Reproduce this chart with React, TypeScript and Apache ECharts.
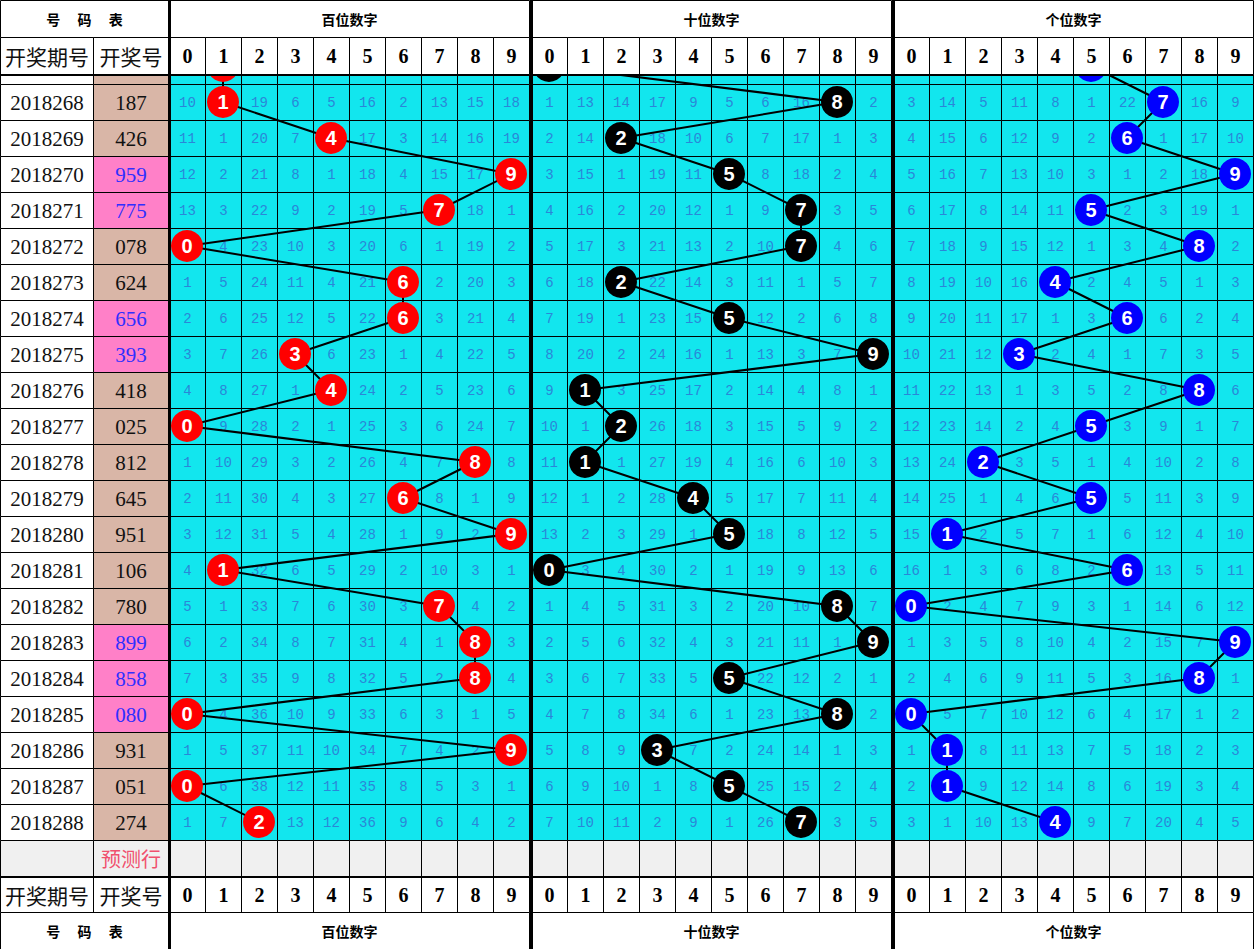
import React, { useEffect, useRef } from 'react';
import * as echarts from 'echarts';

// ---- data -----------------------------------------------------------------
const ISSUES = [
  '2018268', '2018269', '2018270', '2018271', '2018272', '2018273', '2018274',
  '2018275', '2018276', '2018277', '2018278', '2018279', '2018280', '2018281',
  '2018282', '2018283', '2018284', '2018285', '2018286', '2018287', '2018288',
];
const DRAWS = [
  '187', '426', '959', '775', '078', '624', '656', '393', '418', '025', '812',
  '645', '951', '106', '780', '899', '858', '080', '931', '051', '274',
];
// draw of the issue before the first listed one (only the lower edge of its balls shows)
const PREV_DRAW = '105';

const DIGITS = ['0', '1', '2', '3', '4', '5', '6', '7', '8', '9'];
const SECTION_TITLES = ['百位数字', '十位数字', '个位数字'];
const TABLE_TITLE = '号\u3000 码\u3000 表';
const ISSUE_HEADER = '开奖期号';
const DRAW_HEADER = '开奖号';
const FORECAST_LABEL = '预测行';

// omission counts per issue, digits 0-9 (0 = the digit drawn in that issue)
const HUNDREDS_MISS = [
  [10, 0, 19, 6, 5, 16, 2, 13, 15, 18],
  [11, 1, 20, 7, 0, 17, 3, 14, 16, 19],
  [12, 2, 21, 8, 1, 18, 4, 15, 17, 0],
  [13, 3, 22, 9, 2, 19, 5, 0, 18, 1],
  [0, 4, 23, 10, 3, 20, 6, 1, 19, 2],
  [1, 5, 24, 11, 4, 21, 0, 2, 20, 3],
  [2, 6, 25, 12, 5, 22, 0, 3, 21, 4],
  [3, 7, 26, 0, 6, 23, 1, 4, 22, 5],
  [4, 8, 27, 1, 0, 24, 2, 5, 23, 6],
  [0, 9, 28, 2, 1, 25, 3, 6, 24, 7],
  [1, 10, 29, 3, 2, 26, 4, 7, 0, 8],
  [2, 11, 30, 4, 3, 27, 0, 8, 1, 9],
  [3, 12, 31, 5, 4, 28, 1, 9, 2, 0],
  [4, 0, 32, 6, 5, 29, 2, 10, 3, 1],
  [5, 1, 33, 7, 6, 30, 3, 0, 4, 2],
  [6, 2, 34, 8, 7, 31, 4, 1, 0, 3],
  [7, 3, 35, 9, 8, 32, 5, 2, 0, 4],
  [0, 4, 36, 10, 9, 33, 6, 3, 1, 5],
  [1, 5, 37, 11, 10, 34, 7, 4, 2, 0],
  [0, 6, 38, 12, 11, 35, 8, 5, 3, 1],
  [1, 7, 0, 13, 12, 36, 9, 6, 4, 2],
];
const TENS_MISS = [
  [1, 13, 14, 17, 9, 5, 6, 16, 0, 2],
  [2, 14, 0, 18, 10, 6, 7, 17, 1, 3],
  [3, 15, 1, 19, 11, 0, 8, 18, 2, 4],
  [4, 16, 2, 20, 12, 1, 9, 0, 3, 5],
  [5, 17, 3, 21, 13, 2, 10, 0, 4, 6],
  [6, 18, 0, 22, 14, 3, 11, 1, 5, 7],
  [7, 19, 1, 23, 15, 0, 12, 2, 6, 8],
  [8, 20, 2, 24, 16, 1, 13, 3, 7, 0],
  [9, 0, 3, 25, 17, 2, 14, 4, 8, 1],
  [10, 1, 0, 26, 18, 3, 15, 5, 9, 2],
  [11, 0, 1, 27, 19, 4, 16, 6, 10, 3],
  [12, 1, 2, 28, 0, 5, 17, 7, 11, 4],
  [13, 2, 3, 29, 1, 0, 18, 8, 12, 5],
  [0, 3, 4, 30, 2, 1, 19, 9, 13, 6],
  [1, 4, 5, 31, 3, 2, 20, 10, 0, 7],
  [2, 5, 6, 32, 4, 3, 21, 11, 1, 0],
  [3, 6, 7, 33, 5, 0, 22, 12, 2, 1],
  [4, 7, 8, 34, 6, 1, 23, 13, 0, 2],
  [5, 8, 9, 0, 7, 2, 24, 14, 1, 3],
  [6, 9, 10, 1, 8, 0, 25, 15, 2, 4],
  [7, 10, 11, 2, 9, 1, 26, 0, 3, 5],
];
const ONES_MISS = [
  [3, 14, 5, 11, 8, 1, 22, 0, 16, 9],
  [4, 15, 6, 12, 9, 2, 0, 1, 17, 10],
  [5, 16, 7, 13, 10, 3, 1, 2, 18, 0],
  [6, 17, 8, 14, 11, 0, 2, 3, 19, 1],
  [7, 18, 9, 15, 12, 1, 3, 4, 0, 2],
  [8, 19, 10, 16, 0, 2, 4, 5, 1, 3],
  [9, 20, 11, 17, 1, 3, 0, 6, 2, 4],
  [10, 21, 12, 0, 2, 4, 1, 7, 3, 5],
  [11, 22, 13, 1, 3, 5, 2, 8, 0, 6],
  [12, 23, 14, 2, 4, 0, 3, 9, 1, 7],
  [13, 24, 0, 3, 5, 1, 4, 10, 2, 8],
  [14, 25, 1, 4, 6, 0, 5, 11, 3, 9],
  [15, 0, 2, 5, 7, 1, 6, 12, 4, 10],
  [16, 1, 3, 6, 8, 2, 0, 13, 5, 11],
  [0, 2, 4, 7, 9, 3, 1, 14, 6, 12],
  [1, 3, 5, 8, 10, 4, 2, 15, 7, 0],
  [2, 4, 6, 9, 11, 5, 3, 16, 0, 1],
  [0, 5, 7, 10, 12, 6, 4, 17, 1, 2],
  [1, 0, 8, 11, 13, 7, 5, 18, 2, 3],
  [2, 0, 9, 12, 14, 8, 6, 19, 3, 4],
  [3, 1, 10, 13, 0, 9, 7, 20, 4, 5],
];
const SECTION_MISS = [HUNDREDS_MISS, TENS_MISS, ONES_MISS];

// ---- layout ---------------------------------------------------------------
const W = 1255;
const H = 949;
const ROW_PX = 36;
const ROW0_PX = 102; // centre of the first issue row
const pxToRow = (px: number) => (px - ROW0_PX) / ROW_PX;
const Y_MIN = pxToRow(0);
const Y_MAX = pxToRow(H);
const HEAD_TITLE: [number, number] = [pxToRow(0), pxToRow(37)];
const HEAD_DIGITS: [number, number] = [pxToRow(37), pxToRow(74)];
const HEAD_RULE: [number, number] = [pxToRow(74), pxToRow(76)];
const FORECAST = ISSUES.length;
const FOOT_DIGITS: [number, number] = [FORECAST + 0.5, FORECAST + 1.5];
const FOOT_TITLE: [number, number] = [FORECAST + 1.5, Y_MAX];
const FOOT_RULE: [number, number] = [FORECAST + 0.5, FORECAST + 0.5 + 2 / ROW_PX];

const LEFT_W = 168;
const LEFT_COLS: [number, number][] = [[0, 93], [93, 168]];
const SECTION_LEFT = [169, 531, 893];
const SECTION_W = 360;

// ---- style ----------------------------------------------------------------
const CYAN = '#12e6ee';
const TAN = '#d9b6a7';
const PINK = '#ff80c8';
const GREY = '#f0f0f0';
const MISS_COLOR = '#2a86d8';
const PINK_TEXT = '#2f2fff';
const BALL_COLORS = ['#ff0000', '#000000', '#0000ff'];
const FORECAST_COLOR = '#f0506e';

const MISS_FONT = { fontSize: 14, fontFamily: '"Liberation Mono", monospace', fill: MISS_COLOR };
const ISSUE_FONT = { fontSize: 21, fontFamily: '"Liberation Serif", serif', fill: '#111' };
const HEAD_DIGIT_FONT = { fontSize: 20, fontWeight: 'bold', fontFamily: '"Liberation Serif", serif', fill: '#000' };
const HEAD_CJK_FONT = { fontSize: 21, fontFamily: '"Noto Sans CJK SC", sans-serif', fill: '#111' };
const TITLE_FONT = { fontSize: 14, fontWeight: 'bold', fontFamily: '"Noto Sans CJK SC", sans-serif', fill: '#000' };
const FORECAST_FONT = { fontSize: 20, fontFamily: '"Noto Sans CJK SC", sans-serif', fill: FORECAST_COLOR };

const hasRepeat = (s: string) => new Set(s.split('')).size < s.length;

function box(api: any, x0: number, x1: number, v0: number, v1: number, crisp = true) {
  const p = api.coord([x0, v0]);
  const q = api.coord([x1, v1]);
  const L = Math.round(p[0]);
  const R = Math.round(q[0]);
  const T = Math.round(p[1]);
  const B = Math.round(q[1]);
  const o = crisp ? 0.5 : 0;
  return { x: L + o, y: T + o, width: R - L, height: B - T };
}

function cell(shape: any, fill: string, stroke: string | null, text?: string, font?: any) {
  const children: any[] = [
    {
      type: 'rect',
      shape,
      style: { fill, stroke: stroke || 'none', lineWidth: stroke ? 1 : 0 },
    },
  ];
  if (text) {
    children.push({
      type: 'text',
      x: shape.x + shape.width / 2,
      y: shape.y + shape.height / 2,
      style: { text, align: 'center', verticalAlign: 'middle', ...font },
    });
  }
  return { type: 'group', children };
}

type Chrome = {
  x0: number;
  x1: number;
  band: [number, number];
  fill: string;
  stroke: boolean;
  text?: string;
  font?: any;
};

function chromeSeries(items: Chrome[], axisIndex: number) {
  return {
    type: 'custom',
    xAxisIndex: axisIndex,
    yAxisIndex: axisIndex,
    z: 10,
    silent: true,
    data: items.map((it) => [(it.x0 + it.x1) / 2, (it.band[0] + it.band[1]) / 2]),
    renderItem: (params: any, api: any) => {
      const it = items[params.dataIndex];
      const shape = box(api, it.x0, it.x1, it.band[0], it.band[1], it.stroke);
      return cell(shape, it.fill, it.stroke ? '#000' : null, it.text, it.font);
    },
  };
}

function leftChrome(): Chrome[] {
  const [issueCol, drawCol] = LEFT_COLS;
  return [
    { x0: 0, x1: LEFT_W, band: HEAD_TITLE, fill: '#fff', stroke: true, text: TABLE_TITLE, font: TITLE_FONT },
    { x0: issueCol[0], x1: issueCol[1], band: HEAD_DIGITS, fill: '#fff', stroke: true, text: ISSUE_HEADER, font: HEAD_CJK_FONT },
    { x0: drawCol[0], x1: drawCol[1], band: HEAD_DIGITS, fill: '#fff', stroke: true, text: DRAW_HEADER, font: HEAD_CJK_FONT },
    { x0: issueCol[0], x1: issueCol[1], band: FOOT_DIGITS, fill: '#fff', stroke: true, text: ISSUE_HEADER, font: HEAD_CJK_FONT },
    { x0: drawCol[0], x1: drawCol[1], band: FOOT_DIGITS, fill: '#fff', stroke: true, text: DRAW_HEADER, font: HEAD_CJK_FONT },
    { x0: 0, x1: LEFT_W, band: FOOT_TITLE, fill: '#fff', stroke: true, text: TABLE_TITLE, font: TITLE_FONT },
    { x0: 0, x1: LEFT_W, band: HEAD_RULE, fill: '#000', stroke: false },
    { x0: 0, x1: LEFT_W, band: FOOT_RULE, fill: '#000', stroke: false },
  ];
}

function sectionChrome(s: number): Chrome[] {
  const digitCells = (band: [number, number]) =>
    DIGITS.map((d, c) => ({ x0: c - 0.5, x1: c + 0.5, band, fill: '#fff', stroke: true, text: d, font: HEAD_DIGIT_FONT }));
  return [
    { x0: -0.5, x1: 9.5, band: HEAD_TITLE, fill: '#fff', stroke: true, text: SECTION_TITLES[s], font: TITLE_FONT },
    ...digitCells(HEAD_DIGITS),
    ...digitCells(FOOT_DIGITS),
    { x0: -0.5, x1: 9.5, band: FOOT_TITLE, fill: '#fff', stroke: true, text: SECTION_TITLES[s], font: TITLE_FONT },
    { x0: -0.5, x1: 9.5, band: HEAD_RULE, fill: '#000', stroke: false },
    { x0: -0.5, x1: 9.5, band: FOOT_RULE, fill: '#000', stroke: false },
  ];
}

// rows -1 (previous issue) .. FORECAST (forecast row)
const BODY_ROWS = Array.from({ length: FORECAST + 2 }, (_, i) => i - 1);

function leftBodySeries() {
  const data: number[][] = [];
  BODY_ROWS.forEach((r) => {
    data.push([0, r]);
    data.push([1, r]);
  });
  return {
    type: 'custom',
    xAxisIndex: 0,
    yAxisIndex: 0,
    z: 1,
    silent: true,
    data,
    renderItem: (params: any, api: any) => {
      const col = api.value(0);
      const r = api.value(1);
      const [x0, x1] = LEFT_COLS[col];
      const shape = box(api, x0, x1, r - 0.5, r + 0.5);
      const isData = r >= 0 && r < FORECAST;
      if (col === 0) {
        const fill = r === FORECAST ? GREY : '#fff';
        return cell(shape, fill, '#000', isData ? ISSUES[r] : '', ISSUE_FONT);
      }
      if (r === FORECAST) return cell(shape, GREY, '#000', FORECAST_LABEL, FORECAST_FONT);
      const repeat = isData && hasRepeat(DRAWS[r]);
      return cell(
        shape,
        repeat ? PINK : TAN,
        '#000',
        isData ? DRAWS[r] : '',
        repeat ? { ...ISSUE_FONT, fill: PINK_TEXT } : ISSUE_FONT
      );
    },
  };
}

function sectionBodySeries(s: number) {
  const data: number[][] = [];
  BODY_ROWS.forEach((r) => {
    DIGITS.forEach((_, c) => {
      const miss = r >= 0 && r < FORECAST ? SECTION_MISS[s][r][c] : 0;
      data.push([c, r, miss]);
    });
  });
  return {
    type: 'custom',
    xAxisIndex: s + 1,
    yAxisIndex: s + 1,
    z: 1,
    silent: true,
    data,
    renderItem: (params: any, api: any) => {
      const c = api.value(0);
      const r = api.value(1);
      const miss = api.value(2);
      const shape = box(api, c - 0.5, c + 0.5, r - 0.5, r + 0.5);
      const fill = r === FORECAST ? GREY : CYAN;
      const text = r >= 0 && r < FORECAST && miss > 0 ? String(miss) : '';
      return cell(shape, fill, '#000', text, MISS_FONT);
    },
  };
}

function ballSeries(s: number) {
  const data = [
    [Number(PREV_DRAW[s]), -1],
    ...DRAWS.map((d, r) => [Number(d[s]), r]),
  ];
  return {
    type: 'line',
    xAxisIndex: s + 1,
    yAxisIndex: s + 1,
    z: 5,
    silent: true,
    data,
    symbol: 'circle',
    symbolSize: 32,
    showSymbol: true,
    showAllSymbol: true,
    itemStyle: { color: BALL_COLORS[s], borderWidth: 0 },
    lineStyle: { color: '#000', width: 2 },
    emphasis: { disabled: true },
    label: {
      show: true,
      position: 'inside',
      formatter: (p: any) => (p.value[1] < 0 ? '' : String(p.value[0])),
      color: '#fff',
      fontSize: 20,
      fontWeight: 'bold',
      fontFamily: '"Liberation Sans", Arial, sans-serif',
    },
  };
}

export default function App() {
  const ref = useRef<HTMLDivElement>(null);

  useEffect(() => {
    if (!ref.current) return;
    const chart = echarts.init(ref.current, undefined, { renderer: 'svg' });
    const gridCount = 1 + SECTION_LEFT.length;
    chart.setOption({
      animation: false,
      backgroundColor: '#ffffff',
      grid: [
        { left: 0, top: 0, width: LEFT_W, height: H },
        ...SECTION_LEFT.map((l) => ({ left: l, top: 0, width: SECTION_W, height: H })),
      ],
      xAxis: [
        { gridIndex: 0, type: 'value', min: 0, max: LEFT_W, show: false },
        ...SECTION_LEFT.map((_, i) => ({ gridIndex: i + 1, type: 'value', min: -0.5, max: 9.5, show: false })),
      ],
      yAxis: Array.from({ length: gridCount }, (_, g) => ({
        gridIndex: g,
        type: 'value',
        inverse: true,
        min: Y_MIN,
        max: Y_MAX,
        z: 20,
        axisLabel: { show: false },
        axisTick: { show: false },
        splitLine: { show: false },
        axisLine: { show: g > 0, onZero: false, lineStyle: { color: '#000', width: 3 } },
      })),
      series: [
        leftBodySeries(),
        ...SECTION_LEFT.map((_, s) => sectionBodySeries(s)),
        ...SECTION_LEFT.map((_, s) => ballSeries(s)),
        chromeSeries(leftChrome(), 0),
        ...SECTION_LEFT.map((_, s) => chromeSeries(sectionChrome(s), s + 1)),
      ],
    });
    return () => chart.dispose();
  }, []);

  return (
    <div
      ref={ref}
      style={{ position: 'absolute', left: 0, top: 0, width: W, height: H, background: '#fff' }}
    />
  );
}
